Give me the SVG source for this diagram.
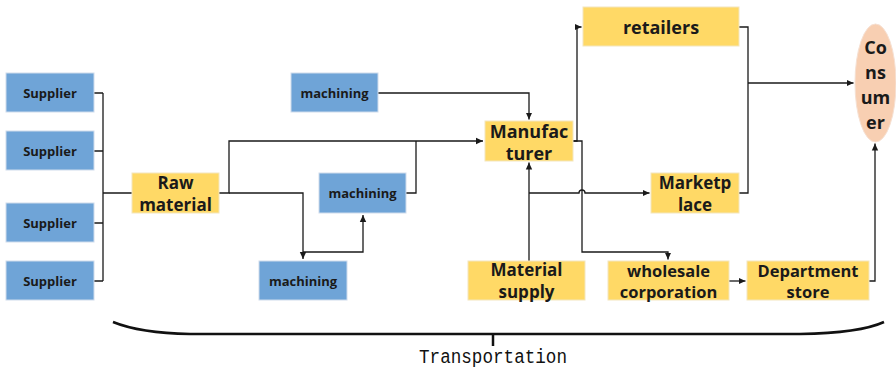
<svg xmlns="http://www.w3.org/2000/svg" width="896" height="370" viewBox="0 0 896 370">
<defs>
<marker id="arr" markerWidth="8" markerHeight="8" refX="7" refY="4" orient="auto" markerUnits="userSpaceOnUse">
<path d="M0,0.8 L7,4 L0,7.2 Z" fill="#1a1a1a"/>
</marker>
<style>
.blue{fill:#6FA4D7;stroke:#cfdcec;stroke-width:1}
.yel{fill:#FFD966;stroke:#f3e6bd;stroke-width:1}
.t{font-family:"Open Sans","Liberation Sans",sans-serif;font-weight:bold;fill:#1a1a1a;text-anchor:middle;dominant-baseline:central}
.s{font-size:13px}
.b{font-size:18px}
.k{font-size:17px}
.m{font-size:16.5px}
.c{fill:none;stroke:#1a1a1a;stroke-width:1.3}
.ca{fill:none;stroke:#1a1a1a;stroke-width:1.3;marker-end:url(#arr)}
</style>
</defs>
<rect width="896" height="370" fill="#ffffff"/>
<g id="connectors">
<path class="c" d="M94,93 H103 M94,151 H103 M94,223 H103 M94,281 H103 M103,93 V281 M103,193 H132"/>
<path class="ca" d="M219,193 H229 V141 H483"/>
<path class="ca" d="M229,193 H303 V259"/>
<path class="ca" d="M303,252 H363 V215"/>
<path class="c" d="M406,193 H416 V141"/>
<path class="ca" d="M378,93 H529 V119.5"/>
<path class="ca" d="M529,261 V162.5"/>
<path class="ca" d="M529,193 H579 A3,3 0 0 1 585,193 H649.5"/>
<path class="ca" d="M573,141 H577 V27 H581.5"/>
<path class="ca" d="M573,141 H582 V252 H668 V259.5"/>
<path class="c" d="M739,27 H748 V193 H739"/>
<path class="ca" d="M748,83 H853.5"/>
<path class="ca" d="M729,281 H745.5"/>
<path class="ca" d="M869,281 H875 V143.5"/>
</g>
<g id="supplier1"><rect class="blue" x="6" y="73" width="88" height="39"/><text class="t s" x="50" y="93">Supplier</text></g>
<g id="supplier2"><rect class="blue" x="6" y="131" width="88" height="39"/><text class="t s" x="50" y="151">Supplier</text></g>
<g id="supplier3"><rect class="blue" x="6" y="203" width="88" height="39"/><text class="t s" x="50" y="223">Supplier</text></g>
<g id="supplier4"><rect class="blue" x="6" y="261" width="88" height="39"/><text class="t s" x="50" y="281">Supplier</text></g>
<g id="raw-material"><rect class="yel" x="132" y="173" width="87" height="40"/><text class="t k" x="175.5" y="182">Raw</text><text class="t k" x="175.5" y="204">material</text></g>
<g id="machining-top"><rect class="blue" x="291" y="73" width="87" height="39"/><text class="t s" x="334.5" y="93">machining</text></g>
<g id="machining-mid"><rect class="blue" x="319" y="173" width="87" height="40"/><text class="t s" x="362.5" y="193">machining</text></g>
<g id="machining-low"><rect class="blue" x="259" y="261" width="88" height="39"/><text class="t s" x="303" y="281">machining</text></g>
<g id="manufacturer"><rect class="yel" x="485" y="121" width="88" height="40"/><text class="t b" x="529" y="130.5">Manufac</text><text class="t b" x="529" y="152.5">turer</text></g>
<g id="material-supply"><rect class="yel" x="468" y="261" width="117" height="39"/><text class="t k" x="526.5" y="269.5">Material</text><text class="t k" x="526.5" y="291.5">supply</text></g>
<g id="retailers"><rect class="yel" x="583" y="7" width="156" height="39"/><text class="t b" x="661" y="27">retailers</text></g>
<g id="marketplace"><rect class="yel" x="651" y="173" width="88" height="40"/><text class="t k" x="695" y="182">Marketp</text><text class="t k" x="695" y="204">lace</text></g>
<g id="wholesale"><rect class="yel" x="608" y="261" width="121" height="39"/><text class="t m" x="668.5" y="270">wholesale</text><text class="t m" x="668.5" y="291">corporation</text></g>
<g id="department-store"><rect class="yel" x="747" y="261" width="122" height="39"/><text class="t m" x="808" y="270">Department</text><text class="t m" x="808" y="291">store</text></g>
<g id="consumer"><ellipse cx="875.5" cy="83" rx="20.5" ry="59" fill="#F8CFB2" stroke="#f6e0d2" stroke-width="1"/><text class="t b" x="875.5" y="47">Co</text><text class="t b" x="875.5" y="71.5">ns</text><text class="t b" x="875.5" y="97">um</text><text class="t b" x="875.5" y="122">er</text></g>
<g id="transportation">
<path d="M113,322 Q140,333 190,334 H800 Q860,333 884,322" fill="none" stroke="#111" stroke-width="2.5"/>
<path d="M493,334 V346" stroke="#111" stroke-width="2.5"/>
<text x="493" y="363" font-family="'Liberation Mono',monospace" font-size="20" text-anchor="middle" fill="#111" textLength="148" lengthAdjust="spacingAndGlyphs">Transportation</text>
</g>
</svg>
